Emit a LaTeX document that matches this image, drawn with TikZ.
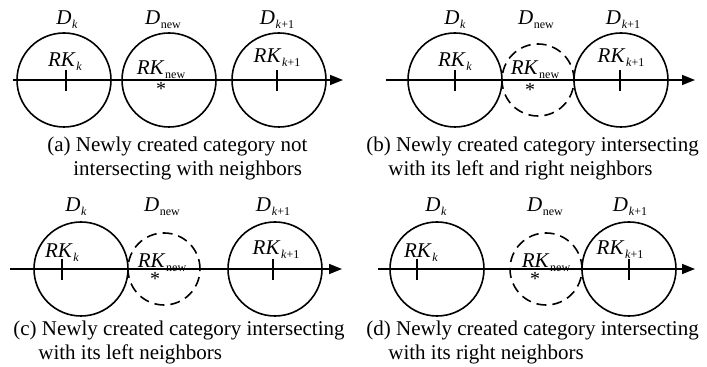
\documentclass[tikz,border=0pt]{standalone}
\usepackage{fontspec}
\setmainfont{Liberation Serif}
\usetikzlibrary{arrows.meta}
\newcommand{\lsub}[2]{\textit{#1}\kern0.3pt\raisebox{-0.4ex}{\fontsize{6}{6}\selectfont #2}}
\tikzset{%
  % classes
  cat/.style={draw, circle, inner sep=0pt, minimum size=47pt, line width=0.8pt},
  newcat/.style={cat, dash pattern=on 5pt off 3pt, minimum size=36pt},
  lbl/.style={anchor=base, inner sep=0pt, font=\fontsize{10.5}{12}\selectfont},
  star/.style={anchor=base, inner sep=0pt, font=\fontsize{10}{12}\selectfont},
  caption/.style={anchor=base west, align=left, inner sep=0pt, font=\fontsize{10.5}{12.25}\selectfont},
  % edge styles
  axis/.style={-{Triangle[length=6.5pt,width=5pt]}, line width=0.8pt},
  tick/.style={line width=0.8pt},
}
\newcommand{\ticknode}[1]{\draw[tick] ([yshift=5pt]#1) -- ([yshift=-5.5pt]#1);}

\begin{document}
\begin{tikzpicture}[x=0.5pt, y=-0.5pt]
  \useasboundingbox (0,0) rectangle (707,367);

  % (a) no intersection
  \coordinate (a_beg) at (13,80);
  \coordinate (a_end) at (343,80);
  \draw[axis] (a_beg) -- (a_end);
  \node[cat] (a_k) at (64,80) {};
  \node[cat] (a_new) at (169,80) {};
  \node[cat] (a_k1) at (279,80) {};
  \coordinate (a_rk) at (66,80);
  \coordinate (a_rk1) at (277,80);
  \ticknode{a_rk}
  \ticknode{a_rk1}
  \node[lbl] (a_dk) at (67,25) {\lsub{D}{\textit{k}}};
  \node[lbl] (a_dnew) at (163,25) {\lsub{D}{new}};
  \node[lbl] (a_dk1) at (277,25) {\lsub{D}{\textit{k}+1}};
  \node[lbl] (a_rkk) at (65,67) {\lsub{RK}{\textit{k}}};
  \node[lbl] (a_rknew) at (161,75) {\lsub{RK}{new}};
  \node[star] (a_star) at (161,96) {*};
  \node[lbl] (a_rkk1) at (277,63) {\lsub{RK}{\textit{k}+1}};
  \node[caption] (a_cap) at (47,176) {(a) Newly created category not\\\hspace*{13pt}intersecting with neighbors};

  % (b) left and right intersection
  \coordinate (b_beg) at (386,80);
  \coordinate (b_end) at (695,80);
  \draw[axis] (b_beg) -- (b_end);
  \node[cat] (b_k) at (455,80) {};
  \node[newcat] (b_new) at (538,80) {};
  \node[cat] (b_k1) at (621,80) {};
  \coordinate (b_rk) at (455,80);
  \coordinate (b_rk1) at (620,80);
  \ticknode{b_rk}
  \ticknode{b_rk1}
  \node[lbl] (b_dk) at (455,25) {\lsub{D}{\textit{k}}};
  \node[lbl] (b_dnew) at (536,25) {\lsub{D}{new}};
  \node[lbl] (b_dk1) at (623,25) {\lsub{D}{\textit{k}+1}};
  \node[lbl] (b_rkk) at (455,67) {\lsub{RK}{\textit{k}}};
  \node[lbl] (b_rknew) at (535,75) {\lsub{RK}{new}};
  \node[star] (b_star) at (530,97) {*};
  \node[lbl] (b_rkk1) at (621,63) {\lsub{RK}{\textit{k}+1}};
  \node[caption] (b_cap) at (366,176) {(b) Newly created category intersecting\\\hspace*{11pt}with its left and right neighbors};

  % (c) left intersection
  \coordinate (c_beg) at (10,269);
  \coordinate (c_end) at (342,269);
  \draw[axis] (c_beg) -- (c_end);
  \node[cat] (c_k) at (81,269) {};
  \node[newcat] (c_new) at (164,269) {};
  \node[cat] (c_k1) at (275,269) {};
  \coordinate (c_rk) at (62,269);
  \coordinate (c_rk1) at (273,269);
  \ticknode{c_rk}
  \ticknode{c_rk1}
  \node[lbl] (c_dk) at (76,212) {\lsub{D}{\textit{k}}};
  \node[lbl] (c_dnew) at (162,212) {\lsub{D}{new}};
  \node[lbl] (c_dk1) at (273,212) {\lsub{D}{\textit{k}+1}};
  \node[lbl] (c_rkk) at (62,258) {\lsub{RK}{\textit{k}}};
  \node[lbl] (c_rknew) at (162,268) {\lsub{RK}{new}};
  \node[star] (c_star) at (155,286) {*};
  \node[lbl] (c_rkk1) at (276,255) {\lsub{RK}{\textit{k}+1}};
  \node[caption] (c_cap) at (13,360) {(c) Newly created category intersecting\\\hspace*{12.5pt}with its left neighbors};

  % (d) right intersection
  \coordinate (d_beg) at (378,269);
  \coordinate (d_end) at (695,269);
  \draw[axis] (d_beg) -- (d_end);
  \node[cat] (d_k) at (437,269) {};
  \node[newcat] (d_new) at (546,269) {};
  \node[cat] (d_k1) at (629,269) {};
  \coordinate (d_rk) at (417,269);
  \coordinate (d_rk1) at (629,269);
  \ticknode{d_rk}
  \ticknode{d_rk1}
  \node[lbl] (d_dk) at (436,212) {\lsub{D}{\textit{k}}};
  \node[lbl] (d_dnew) at (545,212) {\lsub{D}{new}};
  \node[lbl] (d_dk1) at (630,212) {\lsub{D}{\textit{k}+1}};
  \node[lbl] (d_rkk) at (421,258) {\lsub{RK}{\textit{k}}};
  \node[lbl] (d_rknew) at (546,268) {\lsub{RK}{new}};
  \node[star] (d_star) at (535,286) {*};
  \node[lbl] (d_rkk1) at (620,255) {\lsub{RK}{\textit{k}+1}};
  \node[caption] (d_cap) at (366,360) {(d) Newly created category intersecting\\\hspace*{11pt}with its right neighbors};
\end{tikzpicture}
\end{document}
